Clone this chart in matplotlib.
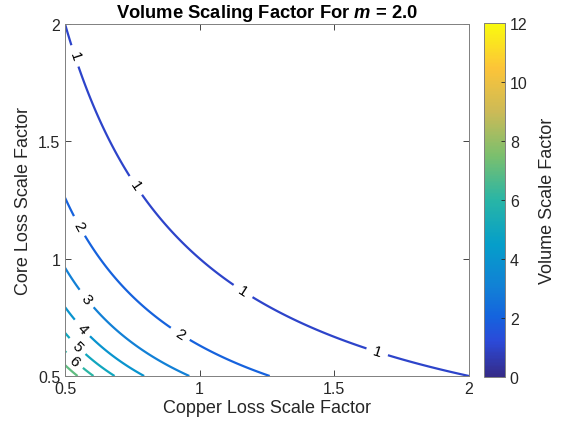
import numpy as np
import matplotlib
matplotlib.use("Agg")
import matplotlib.pyplot as plt
from matplotlib.colors import LinearSegmentedColormap, Normalize
from matplotlib.cm import ScalarMappable

plt.rcParams['font.family'] = ['Liberation Sans', 'DejaVu Sans']
plt.rcParams['mathtext.fontset'] = 'custom'
plt.rcParams['mathtext.it'] = 'Liberation Sans:italic:bold'
plt.rcParams['mathtext.rm'] = 'Liberation Sans:bold'

# ---- data ----
m_value = 2.0
x_range = [0.5, 2.0]
y_range = [0.5, 2.0]
levels = [1, 2, 3, 4, 5, 6, 7]
label_levels = [1, 2, 3, 4, 5, 6]
ticks = [0.5, 1, 1.5, 2]
tick_labels = ['0.5', '1', '1.5', '2']
cbar_ticks = [0, 2, 4, 6, 8, 10, 12]
clim = [0, 12]
label_positions = [(0.526, 1.86), (0.76, 1.31), (1.16, 0.86), (1.66, 0.606),
                   (0.545, 1.134), (0.927, 0.678),
                   (0.58, 0.83), (0.56, 0.70), (0.54, 0.62), (0.53, 0.56)]

# parula-like colormap anchors
parula_anchors = [
    (0.000, (0.2081, 0.1663, 0.5292)),
    (0.100, (0.1700, 0.2900, 0.8500)),
    (0.170, (0.0800, 0.3900, 0.8700)),
    (0.250, (0.0700, 0.5000, 0.8400)),
    (0.375, (0.0200, 0.6200, 0.7900)),
    (0.500, (0.1600, 0.7100, 0.6500)),
    (0.625, (0.4800, 0.7500, 0.4300)),
    (0.750, (0.8000, 0.7300, 0.3400)),
    (0.875, (0.9900, 0.7700, 0.2200)),
    (1.000, (0.9763, 0.9831, 0.0538)),
]
parula = LinearSegmentedColormap.from_list('parula', parula_anchors, N=256)

x = np.linspace(x_range[0], x_range[1], 400)
y = np.linspace(y_range[0], y_range[1], 400)
X, Y = np.meshgrid(x, y)
exponent = (m_value + 1) / m_value
Z = (X * Y) ** (-exponent)

fig = plt.figure(figsize=(5.61, 4.31), dpi=100)
ax = fig.add_axes([0.1159, 0.1253, 0.7201, 0.8167])
norm = Normalize(vmin=clim[0], vmax=clim[1])
cs = ax.contour(X, Y, Z, levels=levels, cmap=parula, norm=norm, linewidths=1.6)
cl = ax.clabel(cs, levels=label_levels, inline=True, fontsize=11, colors='black',
               fmt='%d', manual=label_positions, inline_spacing=7)

textc = (0.15, 0.15, 0.15)
ax.set_xlim(x_range)
ax.set_ylim(y_range)
ax.set_xticks(ticks)
ax.set_xticklabels(tick_labels)
ax.set_yticks(ticks)
ax.set_yticklabels(tick_labels)
ax.tick_params(direction='in', top=True, right=True, labelsize=11.5,
               colors=textc, length=4, width=0.6)
for s in ax.spines.values():
    s.set_color((0.5, 0.5, 0.5))
    s.set_linewidth(0.7)
ax.set_xlabel('Copper Loss Scale Factor', fontsize=13, color=textc, labelpad=2)
ax.set_ylabel('Core Loss Scale Factor', fontsize=13, color=textc, labelpad=4)
ax.set_title(r'Volume Scaling Factor For $m$ = 2.0', fontsize=13.2,
             fontweight='bold', color='black', pad=5)

cax = fig.add_axes([0.8627, 0.123, 0.0374, 0.8213])
sm = ScalarMappable(norm=norm, cmap=parula)
cb = fig.colorbar(sm, cax=cax, ticks=cbar_ticks)
cb.ax.tick_params(direction='in', labelsize=11.5, colors=textc, length=3, width=0.6)
cb.outline.set_edgecolor((0.5, 0.5, 0.5))
cb.outline.set_linewidth(0.7)
cb.set_label('Volume Scale Factor', fontsize=13, color=textc, labelpad=8)

fig.savefig('out.png', dpi=100)
